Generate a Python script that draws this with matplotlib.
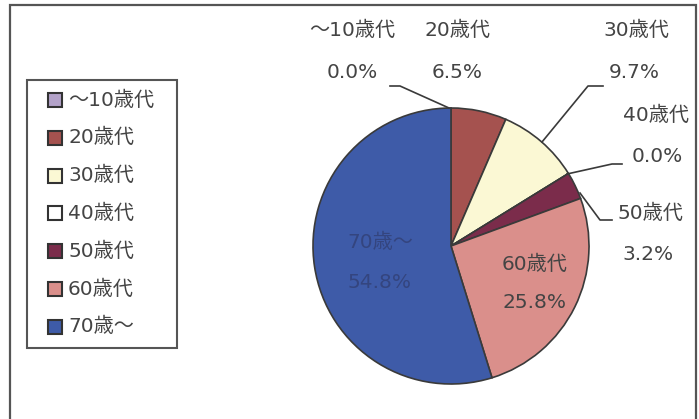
import matplotlib
matplotlib.use("Agg")
import matplotlib.pyplot as plt
from matplotlib.patches import Rectangle

plt.rcParams['font.family'] = ['DejaVu Sans', 'Noto Sans CJK JP']

# age groups and their share (%)
labels = ['～10歳代', '20歳代', '30歳代', '40歳代', '50歳代', '60歳代', '70歳～']
shares = [0.0, 6.5, 9.7, 0.0, 3.2, 25.8, 54.8]
colors = ['#b3a2c9', '#a5524f', '#fbf8d4', '#ffffff', '#7b2c4b', '#da8f8b', '#3e5ba8']

W, H = 699, 419
fig = plt.figure(figsize=(W / 100, H / 100), dpi=100)

def fx(px):
    return px / W

def fy(py):
    return 1 - py / H

def box(x0, y0, x1, y1, **kw):
    # rectangle given by pixel corners (top-left, bottom-right)
    fig.patches.append(Rectangle((fx(x0), fy(y1)), fx(x1 - x0), (y1 - y0) / H,
                                 transform=fig.transFigure, **kw))

# outer frame
box(10, 5, 696, 425, fill=False, edgecolor='#555555', linewidth=1.6)

# pie axes: centre (451, 246), radius 138 px
cx, cy, r = 451, 246, 138
ax = fig.add_axes([fx(cx - r), fy(cy + r), 2 * r / W, 2 * r / H])
wedges, _ = ax.pie(shares, colors=colors, startangle=90, counterclock=False,
                   wedgeprops=dict(edgecolor='#3a3a3a', linewidth=1.2))
ax.set_xlim(-1, 1)
ax.set_ylim(-1, 1)
ax.set_aspect('equal')
ax.axis('off')

txt = '#444444'
fs = 14.5
# (name, value) label positions in pixels
label_pos = [(352, 30, 352, 72), (457, 30, 457, 72), (636, 30, 634, 72),
             (656, 115, 657, 157), (650, 213, 648, 255), (535, 264, 535, 302),
             (380, 242, 380, 282)]
for i, (lab, val) in enumerate(zip(labels, shares)):
    x1, y1, x2, y2 = label_pos[i]
    c = '#34457f' if i == 6 else txt
    fig.text(fx(x1), fy(y1), lab, ha='center', va='center', fontsize=fs, color=c)
    fig.text(fx(x2), fy(y2), f'{val:.1f}%', ha='center', va='center', fontsize=fs, color=c)

# leader lines
leaders = [[(390, 86), (400, 86), (449, 108)],
           [(603, 86), (588, 86), (542, 142)],
           [(622, 164), (612, 164), (567, 174)],
           [(612, 220), (600, 220), (580, 193)]]
for pts in leaders:
    fig.add_artist(plt.Line2D([fx(p[0]) for p in pts], [fy(p[1]) for p in pts],
                              transform=fig.transFigure, color='#3a3a3a', linewidth=1.2))

# legend box, drawn by hand
box(27, 80, 177, 348, fill=False, edgecolor='#555555', linewidth=1.5)
for i, (lab, c) in enumerate(zip(labels, colors)):
    yc = 100 + i * 37.8
    box(48, yc - 7, 62, yc + 7, facecolor=c, edgecolor='#333333', linewidth=1.5)
    fig.text(fx(68), fy(yc), lab, ha='left', va='center', fontsize=fs, color=txt)

fig.savefig('out.png', dpi=100)
